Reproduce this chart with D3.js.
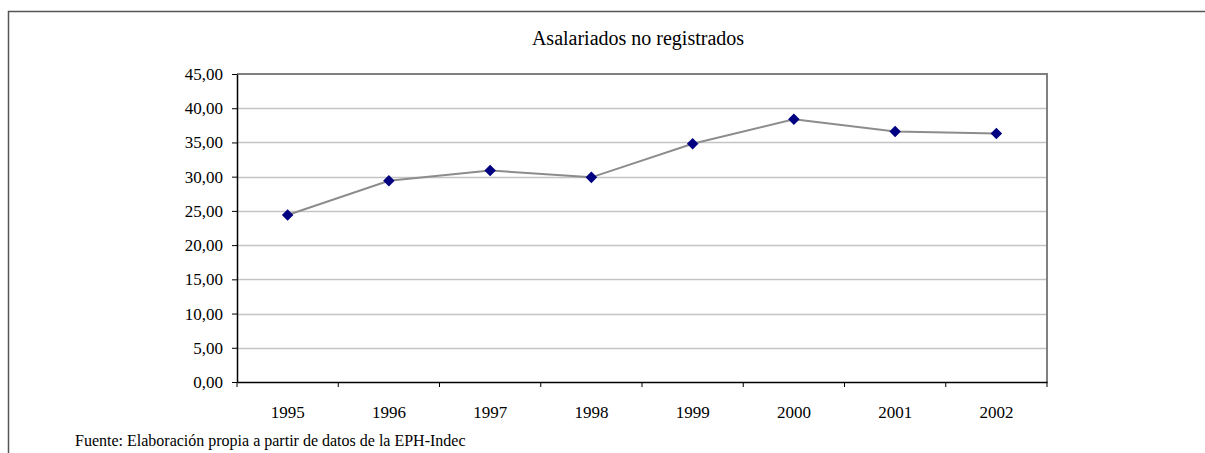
<!DOCTYPE html>
<html>
<head>
<meta charset="utf-8">
<script src="https://cdn.jsdelivr.net/npm/d3@7"></script>
<style>
  body { margin: 0; background: #fff; }
  text { font-family: "Liberation Serif", "DejaVu Serif", serif; fill: #000; }
</style>
</head>
<body>
<div id="chart"></div>
<script>
// data
var years = ["1995", "1996", "1997", "1998", "1999", "2000", "2001", "2002"];
var asalariados = [24.4, 29.4, 30.9, 29.9, 34.8, 38.4, 36.6, 36.3];
var yTicks = [0, 5, 10, 15, 20, 25, 30, 35, 40, 45];

var svgWidth = 1205;
var svgHeight = 453;

var margin = { top: 74, right: 158, bottom: 71, left: 237 };
var width = svgWidth - margin.left - margin.right;
var height = svgHeight - margin.top - margin.bottom;

var svg = d3.select("#chart")
  .append("svg")
  .attr("width", svgWidth)
  .attr("height", svgHeight);

// outer frame (only left and top are visible)
svg.append("path")
  .attr("d", "M8.5," + svgHeight + "V11.5H" + svgWidth)
  .attr("fill", "none")
  .attr("stroke", "#555")
  .attr("stroke-width", 1.5);

var chartGroup = svg.append("g")
  .attr("transform", `translate(${margin.left}, ${margin.top})`);

var x = d3.scaleBand()
  .domain(years)
  .range([0, width]);

var y = d3.scaleLinear()
  .domain([0, 45])
  .range([height, 0]);

var fmt = function(d) { return d.toFixed(2).replace(".", ","); };

// gridlines
chartGroup.append("g")
  .selectAll("line")
  .data(yTicks.filter(d => d > 0 && d < 45))
  .enter()
  .append("line")
  .attr("x1", 0)
  .attr("x2", width)
  .attr("y1", d => Math.round(y(d)) + 0.5)
  .attr("y2", d => Math.round(y(d)) + 0.5)
  .attr("stroke", "#c4c4c4")
  .attr("stroke-width", 1.5);

// plot border top + right
chartGroup.append("path")
  .attr("d", `M0,${y(45)}H${width}V${height}`)
  .attr("fill", "none")
  .attr("stroke", "#808080")
  .attr("stroke-width", 2);

// y axis
var leftAxis = d3.axisLeft(y)
  .tickValues(yTicks)
  .tickFormat(fmt)
  .tickSize(5)
  .tickSizeOuter(0)
  .tickPadding(9);

var gy = chartGroup.append("g")
  .call(leftAxis)
  .attr("font-family", "Liberation Serif")
  .attr("font-size", 17);
gy.select(".domain").attr("stroke", "#000").attr("stroke-width", 1.5);
gy.selectAll(".tick line").attr("stroke", "#000");
gy.selectAll(".tick text").attr("fill", "#000");

// x axis: ticks sit on the category boundaries
var bottomAxis = d3.axisBottom(x)
  .tickSize(0)
  .tickPadding(24);

var gx = chartGroup.append("g")
  .attr("transform", `translate(0, ${height})`)
  .call(bottomAxis)
  .attr("font-family", "Liberation Serif")
  .attr("font-size", 17);
gx.select(".domain").attr("stroke", "#000").attr("stroke-width", 1.5);
gx.selectAll(".tick text").attr("fill", "#000");

gx.selectAll(".boundary")
  .data(years.map(d => x(d)).concat([width]))
  .enter()
  .append("line")
  .attr("class", "boundary")
  .attr("x1", d => d)
  .attr("x2", d => d)
  .attr("y1", 0)
  .attr("y2", 5)
  .attr("stroke", "#000");

// line
var line = d3.line()
  .x((d, i) => x(years[i]) + x.bandwidth() / 2)
  .y(d => y(d));

chartGroup.append("path")
  .datum(asalariados)
  .attr("d", line)
  .attr("fill", "none")
  .attr("stroke", "#8c8c8c")
  .attr("stroke-width", 2);

// diamond markers
var diamond = d3.symbol().type(d3.symbolDiamond2).size(85);
chartGroup.selectAll(".marker")
  .data(asalariados)
  .enter()
  .append("path")
  .attr("class", "marker")
  .attr("d", diamond)
  .attr("transform", (d, i) => `translate(${x(years[i]) + x.bandwidth() / 2}, ${y(d)})`)
  .attr("fill", "#000080");

// title
svg.append("text")
  .attr("x", margin.left + width / 2 - 4)
  .attr("y", 45)
  .attr("text-anchor", "middle")
  .style("font-size", "20px")
  .text("Asalariados no registrados");

// source note
svg.append("text")
  .attr("x", 75)
  .attr("y", 446)
  .style("font-size", "16px")
  .text("Fuente: Elaboración propia a partir de datos de la EPH-Indec");
</script>
</body>
</html>
